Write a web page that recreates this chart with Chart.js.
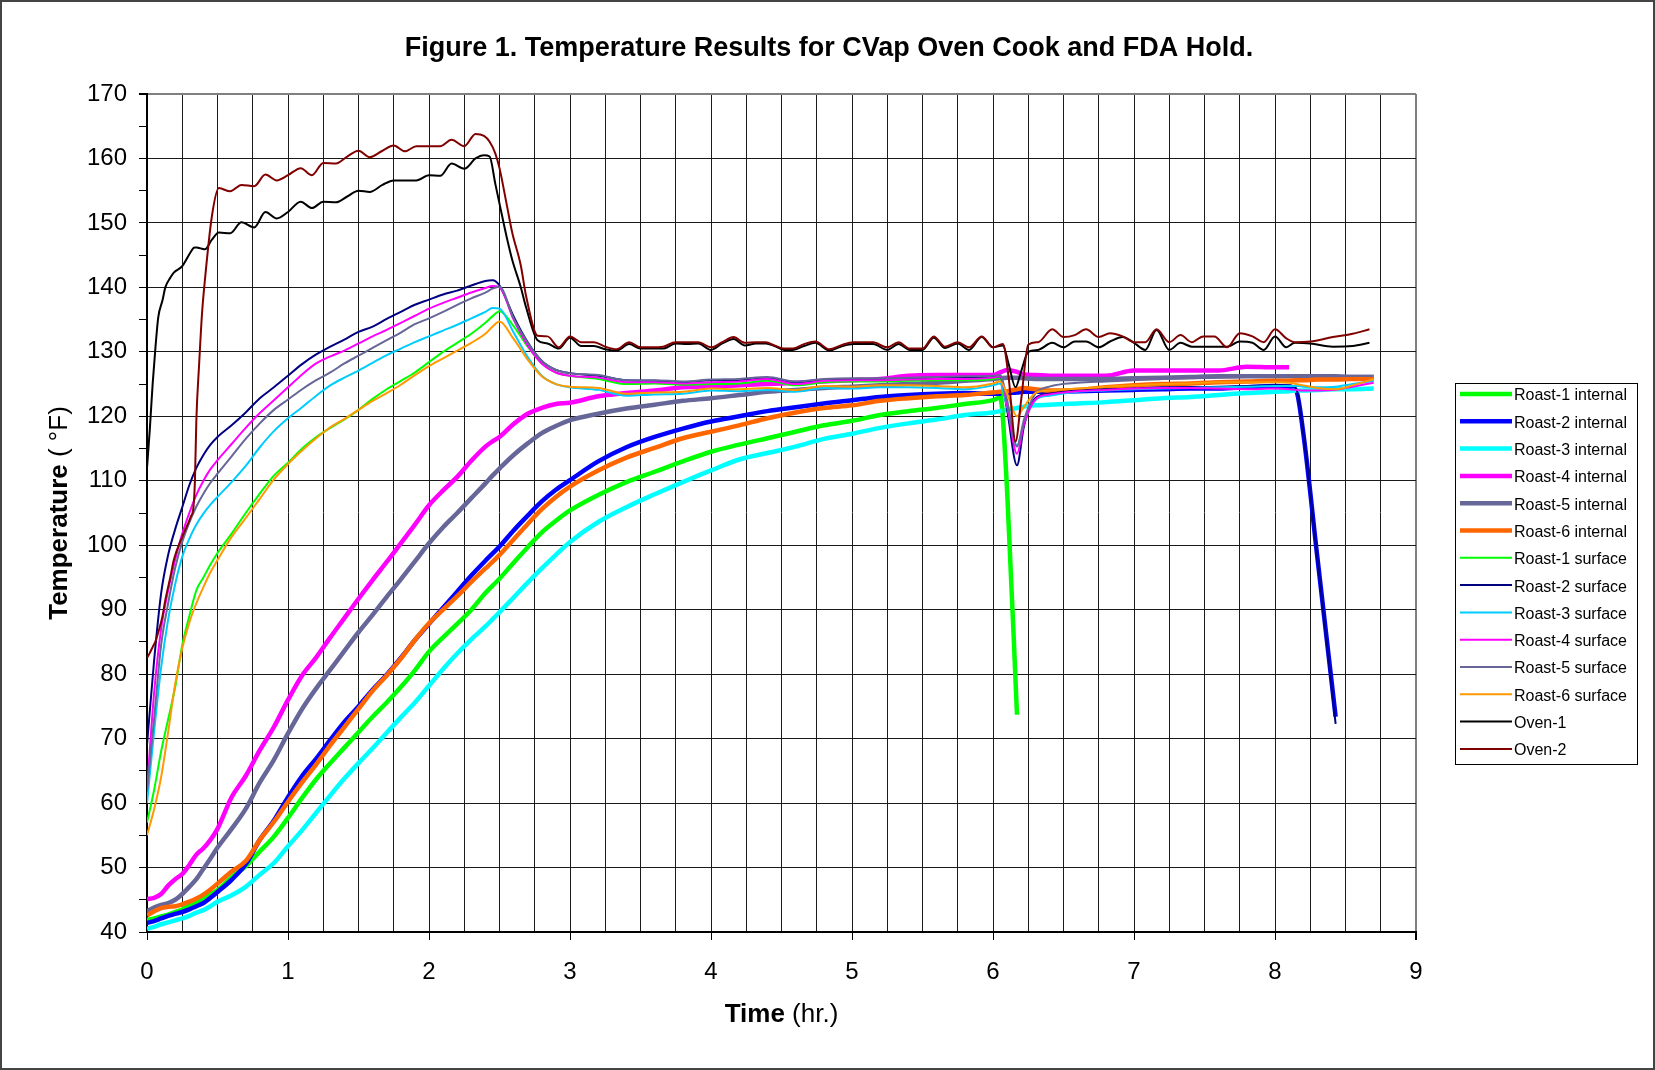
<!DOCTYPE html>
<html>
<head>
<meta charset="utf-8">
<script src="https://cdn.jsdelivr.net/npm/chart.js@4.4.0/dist/chart.umd.min.js"></script>
<style>
  html, body { margin: 0; padding: 0; background: #fff; }
  #wrap { width: 1655px; height: 1070px; }
</style>
</head>
<body>
<div id="wrap"><canvas id="tempChart" width="1655" height="1070"></canvas></div>
<script>
// time grid (hr.) shared by the roast probes
const hours = [0, 0.05, 0.1, 0.15, 0.2, 0.25, 0.3, 0.35, 0.4, 0.45, 0.5,
  0.6, 0.7, 0.8, 0.9, 1.0, 1.1, 1.2, 1.3, 1.4, 1.5, 1.6, 1.7, 1.8, 1.9, 2.0, 2.1, 2.2, 2.3, 2.4, 2.45, 2.5,
  2.6, 2.7, 2.8, 2.9, 3.0,
  3.2, 3.4, 3.6, 3.8, 4.0, 4.2, 4.4, 4.6, 4.8, 5.0, 5.2, 5.4, 5.6, 5.8, 6.0,
  6.05, 6.1, 6.17, 6.22, 6.3,
  6.4, 6.6, 6.8, 7.0, 7.2, 7.4, 7.6, 7.8, 8.0,
  8.1, 8.15, 8.2, 8.3, 8.43, 8.55, 8.7];

const roast1Internal = [41.9, 42.1, 42.4, 42.7, 43.1, 43.5, 44.1, 44.6, 45.3, 45.9, 46.5,
  48.5, 50.2, 52.5, 54.8, 57.7, 60.8, 63.7, 66.2, 68.6, 71.0, 73.4, 75.6, 78.0, 80.6, 83.5, 85.7, 87.8, 90.0, 92.6, 93.7, 94.8,
  97.3, 99.7, 102.0, 103.8, 105.4,
  107.8, 109.8, 111.4, 113.0, 114.5, 115.6, 116.6, 117.6, 118.6, 119.3, 120.2, 120.8, 121.3, 121.9, 122.5,
  122.9, 108.5, 73.7, null, null,
  null, null, null, null, null, null, null, null, null,
  null, null, null, null, null, null, null];
const roast2Internal = [41.4, 41.7, 42.1, 42.5, 42.8, 43.1, 43.5, 44.0, 44.5, 45.3, 46.2,
  48.1, 50.5, 54.3, 57.3, 60.9, 64.2, 66.9, 69.8, 72.6, 75.0, 77.6, 79.9, 82.5, 85.3, 87.8, 90.3, 92.8, 95.3, 97.6, 98.7, 99.8,
  102.3, 104.6, 106.8, 108.6, 110.1,
  113.0, 115.2, 116.8, 118.1, 119.2, 120.0, 120.8, 121.4, 122.0, 122.5, 123.0, 123.3, 123.5, 123.6, 123.5,
  123.5, 123.6, 123.7, 123.8, 123.8,
  123.8, 123.9, 124.0, 124.1, 124.2, 124.3, 124.3, 124.5, 124.7,
  124.6, 124.0, 117.5, 98.2, 73.4, null, null];
const roast3Internal = [40.5, 40.8, 41.2, 41.5, 41.8, 42.1, 42.5, 43.0, 43.4, 44.0, 44.7,
  45.7, 47.0, 48.9, 50.7, 53.3, 55.8, 58.5, 61.2, 63.8, 66.2, 68.5, 70.9, 73.3, 75.6, 78.2, 80.8, 83.2, 85.4, 87.4, 88.5, 89.6,
  91.9, 94.2, 96.4, 98.5, 100.5,
  103.6, 105.9, 107.9, 109.8, 111.6, 113.3, 114.3, 115.3, 116.5, 117.3, 118.2, 118.9, 119.5, 120.2, 120.6,
  120.8, 121.0, 121.3, 121.5, 121.7,
  121.8, 122.0, 122.2, 122.5, 122.8, 123.0, 123.3, 123.6, 123.8,
  123.9, 124.0, 124.0, 124.1, 124.2, 124.2, 124.3];
const roast4Internal = [45.1, 45.3, 45.9, 47.2, 48.2, 49.0, 50.4, 52.0, 53.0, 54.3, 56.0,
  60.9, 64.2, 68.2, 71.8, 76.0, 79.8, 82.6, 85.7, 88.7, 91.7, 94.6, 97.4, 100.3, 103.2, 106.2, 108.5, 110.6, 113.1, 115.3, 116.1, 116.8,
  118.8, 120.4, 121.3, 121.9, 122.1,
  123.1, 123.6, 124.0, 124.5, 124.6, 124.8, 125.0, 125.2, 125.4, 125.6, 125.8, 126.3, 126.4, 126.4, 126.4,
  126.8, 127.2, 126.9, 126.5, 126.4,
  126.3, 126.3, 126.3, 127.1, 127.1, 127.1, 127.1, 127.7, 127.6,
  127.6, null, null, null, null, null, null];
const roast5Internal = [43.2, 43.8, 44.2, 44.5, 45.0, 45.9, 47.0, 48.2, 49.8, 51.4, 53.1,
  56.0, 59.1, 63.2, 66.7, 70.8, 74.6, 77.8, 80.7, 83.6, 86.5, 89.2, 92.0, 94.7, 97.5, 100.3, 102.8, 105.0, 107.3, 109.6, 110.8, 111.9,
  114.0, 115.8, 117.4, 118.5, 119.4,
  120.4, 121.2, 121.8, 122.4, 122.8, 123.3, 123.8, 124.1, 124.4, 124.6, 124.8, 125.0, 125.2, 125.5, 125.8,
  125.9, 126.0, 126.0, 125.9, 125.8,
  125.8, 125.8, 125.8, 125.9, 126.0, 126.1, 126.2, 126.2, 126.2,
  126.2, 126.2, 126.2, 126.2, 126.2, 126.1, 126.1];
const roast6Internal = [42.6, 43.2, 43.7, 43.9, 44.0, 44.3, 44.7, 45.2, 45.8, 46.6, 47.5,
  49.4, 51.0, 54.3, 57.1, 60.2, 63.2, 66.0, 69.0, 71.8, 74.6, 77.4, 79.8, 82.4, 85.3, 87.9, 90.0, 92.1, 94.3, 96.4, 97.4, 98.5,
  100.9, 103.3, 105.6, 107.5, 109.1,
  111.6, 113.6, 115.1, 116.6, 117.6, 118.6, 119.7, 120.6, 121.3, 121.7, 122.4, 122.8, 123.1, 123.3, 123.7,
  123.8, 123.9, 124.2, 124.4, 124.2,
  124.0, 124.1, 124.5, 124.8, 125.0, 125.1, 125.3, 125.4, 125.5,
  125.5, 125.6, 125.6, 125.7, 125.7, 125.8, 125.8];

const roast1Surface = [57, 62, 68, 73, 78, 84.5, 89, 93, 95, 97, 98.8,
  101.8, 105.0, 108.0, 110.8, 112.8, 115.0, 116.8, 118.2, 119.5, 121.0, 122.7, 124.2, 125.5, 126.8, 128.4, 130.0, 131.4, 132.8, 134.5, 135.5, 136.3,
  134.0, 130.8, 128.2, 126.8, 126.3,
  125.8, 125.0, 125.1, 124.9, 125.0, 125.1, 125.5, 124.8, 125.3, 125.4, 125.4, 125.5, 125.6, 125.6, 125.8,
  126.0, 110.0, 74.0, null, null,
  null, null, null, null, null, null, null, null, null,
  null, null, null, null, null, null, null];
const roast2Surface = [69, 82, 92.5, 98.5, 102.5, 105.9, 109.3, 112, 114, 115.6, 116.8,
  118.6, 120.6, 122.8, 124.5, 126.3, 128.1, 129.6, 130.8, 131.9, 133.1, 133.9, 135.1, 136.2, 137.3, 138.1, 138.9, 139.5, 140.3, 141.0, 141.1, 140.3,
  135.5, 131.5, 128.6, 127.2, 126.7,
  126.3, 125.6, 125.5, 125.3, 125.6, 125.6, 125.9, 125.3, 125.7, 125.8, 125.8, 125.9, 126.0, 126.0, 126.1,
  126.2, 121.0, 112.4, 118.5, 122.8,
  123.5, 124.0, 124.2, 124.3, 124.5, 124.5, 124.6, 124.7, 124.8,
  124.8, 124.3, 117.5, 98.0, 72.3, null, null];
const roast3Surface = [60, 71, 81, 88.5, 94, 98.2, 101, 103.2, 104.9, 106.3, 107.5,
  109.8, 112.3, 115.2, 117.7, 119.7, 121.4, 123.2, 124.8, 126.0, 127.1, 128.3, 129.5, 130.5, 131.5, 132.4, 133.3, 134.2, 135.2, 136.2, 136.8, 136.7,
  133.0, 129.2, 126.3, 125.0, 124.5,
  124.1, 123.2, 123.4, 123.5, 124.0, 123.9, 124.1, 123.8, 124.4, 124.3, 124.5, 124.5, 124.4, 124.2, 124.8,
  125.1, 121.5, 115.5, 119.0, 122.5,
  123.2, 123.8, 124.0, 124.2, 124.3, 124.4, 124.5, 124.6, 124.7,
  124.7, 124.7, 124.6, 124.5, 124.6, 125.0, 125.5];
const roast4Surface = [62, 77, 87, 93, 97.8, 101.8, 105, 107.8, 110, 111.8, 113.2,
  115.7, 118.2, 120.5, 122.5, 124.5, 126.5, 128.2, 129.3, 130.2, 131.3, 132.4, 133.4, 134.5, 135.6, 136.7, 137.6, 138.4, 139.2, 139.9, 140.2, 140.0,
  135.0, 131.0, 128.2, 126.8, 126.3,
  126.0, 125.3, 125.3, 125.1, 125.3, 125.4, 125.8, 125.0, 125.5, 125.6, 125.6, 125.7, 125.8, 125.8, 126.0,
  126.2, 121.8, 114.2, 118.8, 122.6,
  123.4, 123.9, 124.1, 124.3, 124.4, 124.4, 124.3, 124.2, 124.3,
  124.2, 124.1, 124.0, 124.0, 124.1, 124.6, 125.2];
const roast5Surface = [62, 73, 84.5, 91, 96.5, 100.5, 103.5, 106, 108, 109.7, 111.1,
  113.8, 116.5, 118.9, 121.0, 122.6, 124.2, 125.6, 126.8, 128.2, 129.4, 130.6, 131.8, 133.0, 134.3, 135.2, 136.2, 137.3, 138.3, 139.2, 139.8, 140.1,
  135.2, 131.4, 128.6, 127.2, 126.7,
  126.4, 125.6, 125.6, 125.4, 125.7, 125.8, 126.1, 125.4, 125.8, 125.9, 125.9, 126.0, 126.1, 126.2, 126.3,
  126.4, 122.5, 115.3, 119.5, 123.5,
  124.6, 125.2, 125.4, 125.6, 125.8, 125.9, 126.0, 126.1, 126.2,
  126.2, 126.2, 126.2, 126.3, 126.3, 126.3, 126.3];
const roast6Surface = [55, 59, 64, 71, 78.5, 84, 88, 91, 93.5, 95.8, 97.7,
  101.3, 104.2, 107.2, 110.2, 112.6, 114.7, 116.6, 118.3, 119.6, 121.0, 122.4, 123.6, 124.9, 126.4, 127.8, 129.0, 130.2, 131.4, 132.8, 133.9, 134.7,
  132.0, 128.8, 126.2, 125.0, 124.6,
  124.4, 123.5, 123.7, 123.8, 124.3, 124.2, 124.4, 124.1, 124.7, 124.6, 124.8, 124.8, 124.7, 124.5, 125.1,
  125.4, 123.5, 120.0, 121.5, 123.6,
  124.0, 124.3, 124.6, 124.8, 125.0, 125.1, 125.3, 125.3, 125.3,
  125.2, 125.0, 124.8, 124.4, 124.2, 124.8, 125.8];

// oven air probes, read at a finer time step
const ovenHours = [0, 0.02, 0.04, 0.06, 0.08, 0.11, 0.13, 0.165, 0.19, 0.25, 0.31, 0.33, 0.34, 0.35, 0.37, 0.39, 0.41, 0.46,
  0.51, 0.59, 0.67, 0.76, 0.84, 0.92, 1.0, 1.09, 1.17, 1.25, 1.34, 1.42, 1.5, 1.58, 1.67, 1.75, 1.83, 1.91,
  2.0, 2.08, 2.16, 2.25, 2.33, 2.39, 2.43, 2.47, 2.5, 2.55, 2.59, 2.65, 2.69, 2.77, 2.84, 2.92,
  3.0, 3.08, 3.17, 3.25, 3.33, 3.42, 3.5, 3.58, 3.66, 3.75, 3.83, 3.91,
  4.0, 4.08, 4.16, 4.24, 4.32, 4.39, 4.45, 4.52, 4.58, 4.66, 4.74, 4.84, 4.92,
  5.01, 5.08, 5.15, 5.25, 5.33, 5.41, 5.5, 5.58, 5.66, 5.75, 5.83, 5.92,
  6.0, 6.07, 6.11, 6.16, 6.2, 6.25, 6.32, 6.42, 6.5, 6.58, 6.66, 6.75, 6.83, 6.92,
  7.0, 7.08, 7.16, 7.25, 7.33, 7.41, 7.49, 7.57, 7.66, 7.75, 7.84, 7.92,
  8.0, 8.08, 8.14, 8.25, 8.41, 8.55, 8.67];
const oven1 = [112, 118, 125, 130.7, 135.4, 138, 140, 141.5, 142.3, 143.3, 145.5, 146.1, 146.2, 146.2, 146.1, 146.0, 145.9, 147.4,
  148.5, 148.4, 150.1, 149.3, 151.7, 150.7, 151.7, 153.3, 152.3, 153.3, 153.2, 154.1, 155.0, 154.8, 155.9, 156.6, 156.6, 156.6,
  157.4, 157.3, 159.2, 158.4, 160.0, 160.5, 160.3, 156.1, 153.0, 147.9, 144.3, 140.1, 136.8, 131.8, 131.3, 130.5,
  132.2, 130.9, 130.9, 130.4, 130.2, 131.2, 130.5, 130.5, 130.5, 131.3, 131.2, 131.3,
  130.3, 131.3, 132.0, 131.0, 131.3, 131.3, 130.9, 130.3, 130.3, 130.9, 131.4, 130.2, 130.8,
  131.2, 131.2, 131.2, 130.3, 131.2, 130.3, 130.3, 132.2, 130.6, 131.3, 130.3, 132.3,
  130.7, 131.0, 128.2, 124.5, 127.0, 130.0, 130.3, 131.4, 130.7, 131.6, 131.6, 130.7, 131.6, 132.3,
  131.4, 130.3, 133.4, 130.3, 131.4, 130.8, 130.8, 130.8, 130.8, 131.6, 131.4, 130.3,
  132.4, 130.7, 131.4, 131.3, 130.8, 130.9, 131.4];
const oven2 = [82.5, 83.3, 84.2, 85.1, 86.5, 89, 91.5, 95, 97.7, 101.3, 104.4, 106.0, 110.1, 119.4, 128.2, 135.9, 141, 151,
  155.4, 154.9, 155.9, 155.7, 157.5, 156.6, 157.4, 158.5, 157.4, 159.3, 159.2, 160.3, 161.2, 160.2, 161.2, 162.0, 161.1, 161.9,
  161.9, 161.9, 162.9, 161.9, 163.8, 163.5, 162.6, 160.8, 158.5, 153, 148.5, 143.5, 138.5, 132.5, 132.4, 130.7,
  132.4, 131.5, 131.5, 130.8, 130.4, 131.5, 130.7, 130.7, 130.8, 131.5, 131.5, 131.5,
  130.7, 131.5, 132.3, 131.4, 131.5, 131.5, 131.0, 130.5, 130.5, 131.2, 131.6, 130.4, 131.0,
  131.5, 131.5, 131.5, 130.7, 131.5, 130.5, 130.5, 132.4, 130.8, 131.5, 130.7, 132.4,
  130.7, 131.2, 126.2, 116.1, 122.6, 131.1, 131.5, 133.5, 132.3, 132.6, 133.5, 132.3, 132.9, 132.4,
  131.5, 131.5, 133.5, 131.5, 132.6, 131.5, 132.4, 132.4, 130.7, 132.9, 132.4, 131.5,
  133.5, 132.1, 131.5, 131.6, 132.3, 132.8, 133.5];

const FONT = "'Liberation Sans', Arial, Helvetica, sans-serif";

function toPoints(xs, ys) {
  const pts = [];
  xs.forEach((x, i) => {
    if (ys[i] !== null && ys[i] !== undefined) pts.push({ x: x, y: ys[i] });
  });
  return pts;
}

const series = [
  { label: "Roast-1 internal", xs: hours, ys: roast1Internal, color: "#00FF00", width: 4.5 },
  { label: "Roast-2 internal", xs: hours, ys: roast2Internal, color: "#0000FF", width: 4.5 },
  { label: "Roast-3 internal", xs: hours, ys: roast3Internal, color: "#00FFFF", width: 4.5 },
  { label: "Roast-4 internal", xs: hours, ys: roast4Internal, color: "#FF00FF", width: 4.5 },
  { label: "Roast-5 internal", xs: hours, ys: roast5Internal, color: "#666699", width: 4.5 },
  { label: "Roast-6 internal", xs: hours, ys: roast6Internal, color: "#FF6600", width: 4.5 },
  { label: "Roast-1 surface", xs: hours, ys: roast1Surface, color: "#00FF00", width: 2 },
  { label: "Roast-2 surface", xs: hours, ys: roast2Surface, color: "#000080", width: 2 },
  { label: "Roast-3 surface", xs: hours, ys: roast3Surface, color: "#00CCFF", width: 2 },
  { label: "Roast-4 surface", xs: hours, ys: roast4Surface, color: "#FF00FF", width: 2 },
  { label: "Roast-5 surface", xs: hours, ys: roast5Surface, color: "#666699", width: 2 },
  { label: "Roast-6 surface", xs: hours, ys: roast6Surface, color: "#FF9900", width: 2 },
  { label: "Oven-1", xs: ovenHours, ys: oven1, color: "#000000", width: 2 },
  { label: "Oven-2", xs: ovenHours, ys: oven2, color: "#800000", width: 2 }
];

// title, axis titles, legend box and outer frame
const decorations = {
  id: "decorations",
  beforeDraw(chart) {
    const ctx = chart.ctx;
    ctx.save();
    ctx.fillStyle = "#fff";
    ctx.fillRect(0, 0, chart.width, chart.height);
    ctx.restore();
  },
  afterDraw(chart) {
    const ctx = chart.ctx;
    const area = chart.chartArea;
    ctx.save();

    // outer frame
    ctx.strokeStyle = "#444";
    ctx.lineWidth = 2;
    ctx.strokeRect(1, 1, chart.width - 2, chart.height - 2);

    ctx.fillStyle = "#000";
    ctx.textBaseline = "alphabetic";

    // title
    ctx.font = "bold 27px " + FONT;
    ctx.textAlign = "center";
    ctx.fillText("Figure 1. Temperature Results for CVap Oven Cook and FDA Hold.", 829, 56);

    // x axis title: bold word + plain unit
    ctx.textAlign = "left";
    ctx.font = "bold 26px " + FONT;
    const xBold = "Time";
    const wb = ctx.measureText(xBold).width;
    ctx.font = "26px " + FONT;
    const xUnit = " (hr.)";
    const wu = ctx.measureText(xUnit).width;
    const xc = (area.left + area.right) / 2;
    let x0 = xc - (wb + wu) / 2;
    ctx.font = "bold 26px " + FONT;
    ctx.fillText(xBold, x0, 1022);
    ctx.font = "26px " + FONT;
    ctx.fillText(xUnit, x0 + wb, 1022);

    // y axis title, rotated
    ctx.save();
    ctx.translate(67, (area.top + area.bottom) / 2);
    ctx.rotate(-Math.PI / 2);
    ctx.font = "bold 26px " + FONT;
    const yBold = "Temperature";
    const yb = ctx.measureText(yBold).width;
    ctx.font = "26px " + FONT;
    const yUnit = " ( \u00B0F)";
    const yu = ctx.measureText(yUnit).width;
    x0 = -(yb + yu) / 2;
    ctx.font = "bold 26px " + FONT;
    ctx.fillText(yBold, x0, 0);
    ctx.font = "26px " + FONT;
    ctx.fillText(yUnit, x0 + yb, 0);
    ctx.restore();

    // legend
    const box = { left: 1455, top: 383, width: 182, height: 381 };
    ctx.strokeStyle = "#000";
    ctx.lineWidth = 1;
    ctx.strokeRect(box.left + 0.5, box.top + 0.5, box.width, box.height);
    ctx.font = "16px " + FONT;
    ctx.textBaseline = "middle";
    ctx.textAlign = "left";
    chart.data.datasets.forEach((ds, i) => {
      const y = 394 + i * 27.3;
      ctx.strokeStyle = ds.borderColor;
      ctx.lineWidth = ds.borderWidth;
      ctx.beginPath();
      ctx.moveTo(1460, y);
      ctx.lineTo(1512, y);
      ctx.stroke();
      ctx.fillStyle = "#000";
      ctx.fillText(ds.label, 1514, y + 2);
    });

    ctx.restore();
  }
};

const ctx = document.getElementById("tempChart").getContext("2d");
new Chart(ctx, {
  type: "line",
  data: {
    datasets: series.map((s, i) => ({
      label: s.label,
      data: toPoints(s.xs, s.ys),
      borderColor: s.color,
      backgroundColor: s.color,
      borderWidth: s.width,
      borderJoinStyle: "round",
      pointRadius: 0,
      fill: false,
      cubicInterpolationMode: "monotone",
      order: series.length - 1 - i
    }))
  },
  options: {
    responsive: false,
    animation: false,
    devicePixelRatio: 1,
    layout: { padding: { top: 94, right: 239, bottom: 0, left: 0 } },
    plugins: {
      legend: { display: false },
      title: { display: false },
      tooltip: { enabled: false }
    },
    scales: {
      x: {
        type: "linear",
        min: 0,
        max: 9,
        afterFit(scale) { scale.height = 138; },
        ticks: {
          stepSize: 0.25,
          autoSkip: false,
          maxRotation: 0,
          padding: 18,
          color: "#000",
          font: { family: FONT, size: 24 },
          callback: (v) => (Number.isInteger(v) ? v : "")
        },
        grid: {
          color: (c) => (c.tick && c.tick.value === 9 ? "#808080" : "#1a1a1a"),
          lineWidth: (c) => (c.tick && c.tick.value === 9 ? 2 : 1),
          tickLength: 8,
          tickColor: (c) => (c.tick && Number.isInteger(c.tick.value) ? "#000" : "rgba(0,0,0,0)")
        },
        border: { color: "#000", width: 2 }
      },
      y: {
        min: 40,
        max: 170,
        afterFit(scale) { scale.width = 147; },
        ticks: {
          stepSize: 5,
          autoSkip: false,
          padding: 12,
          color: "#000",
          font: { family: FONT, size: 24 },
          callback: (v) => (v % 10 === 0 ? v : "")
        },
        grid: {
          color: (c) => {
            if (!c.tick) return "#1a1a1a";
            if (c.tick.value === 170) return "#808080";
            return c.tick.value % 10 === 0 ? "#1a1a1a" : "rgba(0,0,0,0)";
          },
          lineWidth: (c) => (c.tick && c.tick.value === 170 ? 2 : 1),
          tickLength: 8,
          tickColor: "#000"
        },
        border: { color: "#000", width: 2 }
      }
    }
  },
  plugins: [decorations]
});
</script>
</body>
</html>
